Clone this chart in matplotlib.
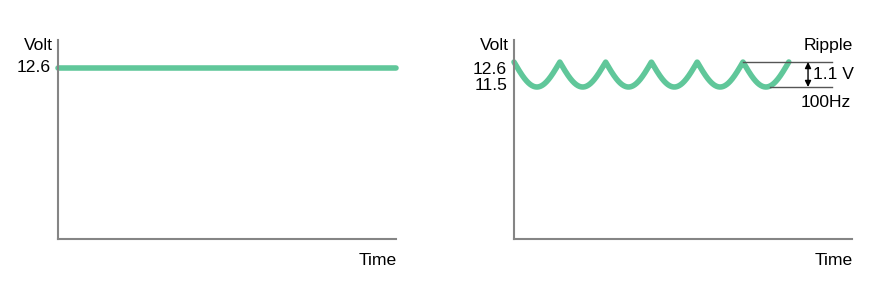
import numpy as np
import matplotlib
matplotlib.use("Agg")
import matplotlib.pyplot as plt

plt.rcParams['font.family'] = ['Liberation Sans', 'DejaVu Sans']

# Values shown on the two voltage charts
dc_level = 12.6          # smoothed battery voltage (V)
ripple_peak = 12.6       # ripple maximum (V)
ripple_trough = 11.5     # ripple minimum (V)
ripple_freq_hz = 100     # ripple frequency
ripple_cycles = 6        # number of ripple humps drawn
ripple_label = "1.1 V"
freq_label = "100Hz"

GREEN = "#60c79a"
GREY = "#858585"
FS = 12.6

period_ms = 1000.0 / ripple_freq_hz
x_max = 73.8

fig = plt.figure(figsize=(8.93, 2.99), dpi=100)
W, H = 893, 299


def make_axes(left_px):
    ax = fig.add_axes([left_px / W, (H - 239) / H, 338 / W, 199 / H])
    for s in ("top", "right"):
        ax.spines[s].set_visible(False)
    for s in ("left", "bottom"):
        ax.spines[s].set_color(GREY)
        ax.spines[s].set_linewidth(1.5)
    ax.set_xticks([])
    ax.set_yticks([])
    ax.set_xlim(0, x_max)
    ax.patch.set_alpha(0)
    return ax


def axis_titles(ax):
    ax.annotate("Volt", xy=(0, 1), xycoords="axes fraction",
                xytext=(-4, -4), textcoords="offset points",
                ha="right", va="center", fontsize=FS)
    ax.annotate("Time", xy=(1, 0), xycoords="axes fraction",
                xytext=(0.5, -15.5), textcoords="offset points",
                ha="right", va="center", fontsize=FS)


# ---- Left: steady DC voltage ----
ax1 = make_axes(58)
ax1.set_ylim(0, dc_level * 199 / 171)
t_dc = np.array([0.0, x_max])
ax1.plot(t_dc, [dc_level, dc_level], color=GREEN, lw=4.0,
         solid_capstyle="round", clip_on=False)
axis_titles(ax1)
ax1.annotate(f"{dc_level}", xy=(0, dc_level), xycoords=("axes fraction", "data"),
             xytext=(-5, 0.5), textcoords="offset points",
             ha="right", va="center", fontsize=FS)

# ---- Right: rectified voltage with ripple ----
ax2 = make_axes(514)
px_per_v = 25 / (ripple_peak - ripple_trough)
ax2.set_ylim(ripple_peak - 177 / px_per_v, ripple_peak + 22 / px_per_v)

t = np.linspace(0, ripple_cycles * period_ms, 1200)
v = ripple_peak - (ripple_peak - ripple_trough) * np.abs(np.sin(np.pi * t / period_ms))
ax2.plot(t, v, color=GREEN, lw=4.0, solid_capstyle="round", clip_on=False)
axis_titles(ax2)

ax2.annotate(f"{ripple_peak}", xy=(0, ripple_peak), xycoords=("axes fraction", "data"),
             xytext=(-5, -5.2), textcoords="offset points",
             ha="right", va="center", fontsize=FS)
ax2.annotate(f"{ripple_trough}", xy=(0, ripple_trough), xycoords=("axes fraction", "data"),
             xytext=(-5, 1.0), textcoords="offset points",
             ha="right", va="center", fontsize=FS)

# reference lines marking the ripple amplitude
t_top = (ripple_cycles - 1) * period_ms
t_bot = t_top + period_ms / 2 + 0.9
t_end = 69.4
ax2.plot([t_top, t_end], [ripple_peak, ripple_peak], color="#555555", lw=1.0)
ax2.plot([t_bot, t_end], [ripple_trough, ripple_trough], color="#555555", lw=1.0)

t_arrow = 64.2
ax2.annotate("", xy=(t_arrow, ripple_trough), xytext=(t_arrow, ripple_peak),
             arrowprops=dict(arrowstyle="<|-|>", color="black", lw=1.0,
                             mutation_scale=9, shrinkA=0, shrinkB=0))
ax2.annotate(ripple_label, xy=(t_arrow, (ripple_peak + ripple_trough) / 2),
             xytext=(3.5, 0), textcoords="offset points",
             ha="left", va="center", fontsize=FS)
ax2.annotate("Ripple", xy=(t_arrow, ripple_peak), xytext=(14.5, 12),
             textcoords="offset points", ha="center", va="center", fontsize=FS)
ax2.annotate(freq_label, xy=(t_arrow, ripple_trough), xytext=(12.5, -11),
             textcoords="offset points", ha="center", va="center", fontsize=FS)

fig.savefig("out.png", dpi=100)
